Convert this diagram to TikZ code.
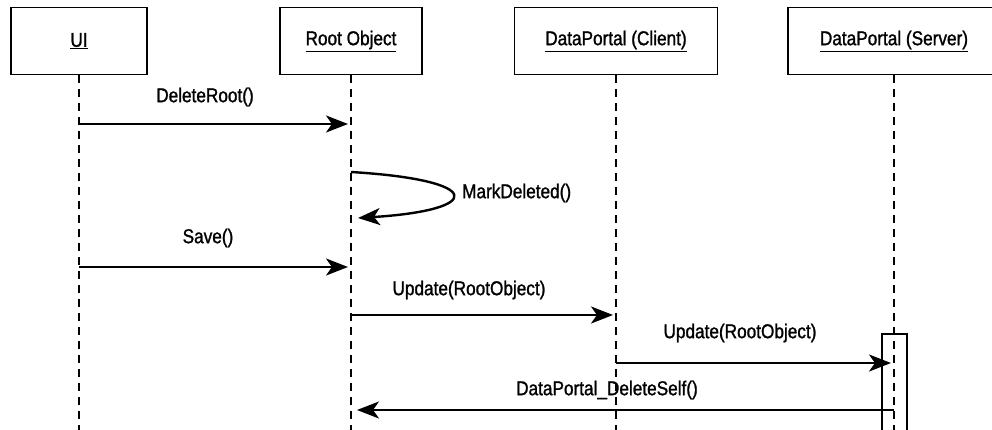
\documentclass[tikz,border=0pt]{standalone}
\usepackage{fontspec}
\setmainfont{Liberation Sans}[FakeStretch=0.86, FakeBold=1.2]
\usetikzlibrary{arrows.meta}

\begin{document}
\begin{tikzpicture}[
    x=1pt, y=-1pt,
    actor/.style={draw, line width=1.6pt, minimum height=67pt, inner sep=0pt, font=\fontsize{20}{24}\selectfont},
    lifeline/.style={line width=2.4pt, dash pattern=on 8pt off 6pt},
    msg/.style={->, line width=2.6pt, shorten >=3pt},
    msglabel/.style={font=\fontsize{20}{24}\selectfont, inner sep=0pt},
    >={Stealth[length=22pt, width=17pt, inset=6pt]}
  ]
    \useasboundingbox (0,0) rectangle (992,430);

    % objects
    \node[actor, minimum width=136pt] (ui) at (79,41) {\underline{UI}};
    \node[actor, minimum width=142pt] (root) at (351,41) {\underline{Root Object}};
    \node[actor, minimum width=203pt] (client) at (616,41) {\underline{DataPortal (Client)}};
    \node[actor, minimum width=212pt] (server) at (894,41) {\underline{DataPortal (Server)}};

    % activation on the server
    \draw[line width=1.6pt] (882,430) |- (907,334) -- (907,430);

    % lifelines
    \draw[lifeline] (ui.south) -- (ui.south |- 0,430);
    \draw[lifeline] (root.south) -- (root.south |- 0,430);
    \draw[lifeline] (client.south) -- (client.south |- 0,430);
    \draw[lifeline] (server.south) -- (server.south |- 0,430);

    % messages
    \draw[msg] (ui.south |- 0,124) -- (root.south |- 0,124);
    \node[msglabel] (deleteroot) at (205,97) {DeleteRoot()};

    \coordinate (loopin) at (351,172);
    \coordinate (loopout) at (358,218);
    \draw[->, line width=2.4pt] (loopin) .. controls (485,180) and (485,210) .. (loopout);
    \node[msglabel, anchor=west] (markdeleted) at (462,193) {MarkDeleted()};

    \draw[msg] (ui.south |- 0,267) -- (root.south |- 0,267);
    \node[msglabel] (save) at (208,238) {Save()};

    \draw[msg] (root.south |- 0,315) -- (client.south |- 0,315);
    \node[msglabel] (update1) at (469,290) {Update(RootObject)};

    \draw[msg] (client.south |- 0,363) -- (server.south |- 0,363);
    \node[msglabel] (update2) at (740,333) {Update(RootObject)};

    \draw[msg, line width=2.2pt, shorten >=6pt] (server.south |- 0,410) -- (root.south |- 0,410);
    \node[msglabel] (deleteself) at (607,390) {DataPortal\_DeleteSelf()};
\end{tikzpicture}
\end{document}
